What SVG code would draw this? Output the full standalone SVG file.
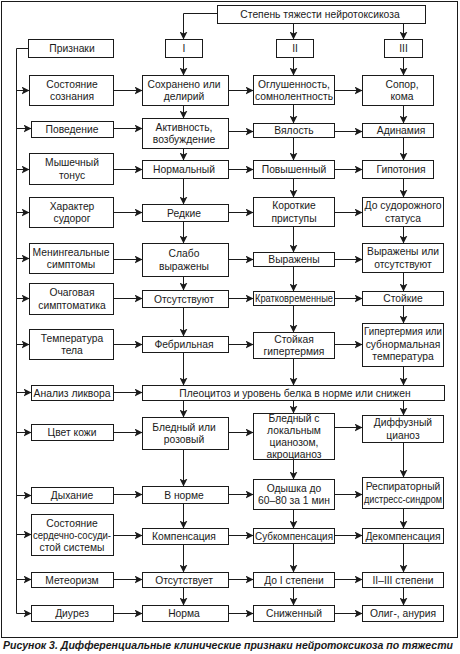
<svg xmlns="http://www.w3.org/2000/svg" width="460" height="654" viewBox="0 0 460 654">
<style>
.b{fill:#fff;stroke:#1a1a1a;stroke-width:1}
.t{font-family:"Liberation Sans",Arial,sans-serif;font-size:10.3px;fill:#1a1a1a;text-anchor:middle}
.c{fill:none;stroke:#1a1a1a;stroke-width:1}
.cap{font-family:"Liberation Sans",Arial,sans-serif;font-size:10.5px;font-weight:bold;font-style:italic;fill:#1a1a1a}
</style>
<defs>
<marker id="a" markerUnits="userSpaceOnUse" viewBox="0 0 8 8" markerWidth="8" markerHeight="8" refX="8" refY="4" orient="auto"><path d="M0,0 L8,4 L0,8 L2,4 z" fill="#1a1a1a"/></marker>
</defs>
<rect x="1.5" y="1.5" width="456" height="636" fill="#fff" stroke="#1a1a1a" stroke-width="1"/>

<g id="connectors" class="c">
<path d="M217.5,13.5 H183.5 V39.5" marker-end="url(#a)"/>
<path d="M293.5,23.5 V39.5" marker-end="url(#a)"/>
<path d="M403.5,23.5 V39.5" marker-end="url(#a)"/>
<path d="M16.5,48.5 V613.5 M16.5,48.5 H28.5"/>
<path d="M16.5,90.5 H29.5" marker-end="url(#a)"/>
<path d="M16.5,128.5 H31.5" marker-end="url(#a)"/>
<path d="M16.5,169.5 H29.5" marker-end="url(#a)"/>
<path d="M16.5,212.5 H29.5" marker-end="url(#a)"/>
<path d="M16.5,258.5 H29.5" marker-end="url(#a)"/>
<path d="M16.5,298.5 H29.5" marker-end="url(#a)"/>
<path d="M16.5,344.5 H29.5" marker-end="url(#a)"/>
<path d="M16.5,392.5 H31.5" marker-end="url(#a)"/>
<path d="M16.5,432.5 H31.5" marker-end="url(#a)"/>
<path d="M16.5,495.5 H31.5" marker-end="url(#a)"/>
<path d="M16.5,534.5 H31.5" marker-end="url(#a)"/>
<path d="M16.5,579.5 H31.5" marker-end="url(#a)"/>
<path d="M16.5,613.5 H31.5" marker-end="url(#a)"/>
<path d="M113.5,90.5 H142.5" marker-end="url(#a)"/>
<path d="M228.5,90.5 H253.5" marker-end="url(#a)"/>
<path d="M334.5,90.5 H362.5" marker-end="url(#a)"/>
<path d="M113.5,128.5 H142.5" marker-end="url(#a)"/>
<path d="M228.5,131.5 H253.5" marker-end="url(#a)"/>
<path d="M334.5,131.5 H362.5" marker-end="url(#a)"/>
<path d="M113.5,169.5 H142.5" marker-end="url(#a)"/>
<path d="M228.5,169.5 H253.5" marker-end="url(#a)"/>
<path d="M334.5,169.5 H362.5" marker-end="url(#a)"/>
<path d="M113.5,212.5 H142.5" marker-end="url(#a)"/>
<path d="M228.5,212.5 H253.5" marker-end="url(#a)"/>
<path d="M334.5,212.5 H362.5" marker-end="url(#a)"/>
<path d="M113.5,259.5 H142.5" marker-end="url(#a)"/>
<path d="M228.5,259.5 H253.5" marker-end="url(#a)"/>
<path d="M334.5,259.5 H362.5" marker-end="url(#a)"/>
<path d="M113.5,298.5 H142.5" marker-end="url(#a)"/>
<path d="M228.5,298.5 H253.5" marker-end="url(#a)"/>
<path d="M334.5,298.5 H362.5" marker-end="url(#a)"/>
<path d="M113.5,344.5 H142.5" marker-end="url(#a)"/>
<path d="M228.5,344.5 H253.5" marker-end="url(#a)"/>
<path d="M334.5,344.5 H362.5" marker-end="url(#a)"/>
<path d="M113.5,392.5 H142.5" marker-end="url(#a)"/>
<path d="M113.5,432.5 H142.5" marker-end="url(#a)"/>
<path d="M228.5,432.5 H253.5" marker-end="url(#a)"/>
<path d="M334.5,427.5 H362.5" marker-end="url(#a)"/>
<path d="M113.5,494.5 H142.5" marker-end="url(#a)"/>
<path d="M228.5,494.5 H253.5" marker-end="url(#a)"/>
<path d="M334.5,494.5 H362.5" marker-end="url(#a)"/>
<path d="M113.5,535.5 H142.5" marker-end="url(#a)"/>
<path d="M228.5,535.5 H253.5" marker-end="url(#a)"/>
<path d="M334.5,535.5 H362.5" marker-end="url(#a)"/>
<path d="M113.5,579.5 H142.5" marker-end="url(#a)"/>
<path d="M228.5,579.5 H253.5" marker-end="url(#a)"/>
<path d="M334.5,579.5 H362.5" marker-end="url(#a)"/>
<path d="M113.5,613.5 H142.5" marker-end="url(#a)"/>
<path d="M228.5,613.5 H253.5" marker-end="url(#a)"/>
<path d="M334.5,613.5 H362.5" marker-end="url(#a)"/>
<path d="M183.5,57.5 V75.5" marker-end="url(#a)"/>
<path d="M183.5,105.5 V118.5" marker-end="url(#a)"/>
<path d="M183.5,148.5 V160.5" marker-end="url(#a)"/>
<path d="M183.5,178.5 V204.5" marker-end="url(#a)"/>
<path d="M183.5,221.5 V243.5" marker-end="url(#a)"/>
<path d="M183.5,276.5 V290.5" marker-end="url(#a)"/>
<path d="M183.5,307.5 V336.5" marker-end="url(#a)"/>
<path d="M183.5,352.5 V385.5" marker-end="url(#a)"/>
<path d="M183.5,400.5 V417.5" marker-end="url(#a)"/>
<path d="M183.5,449.5 V486.5" marker-end="url(#a)"/>
<path d="M183.5,503.5 V528.5" marker-end="url(#a)"/>
<path d="M183.5,544.5 V572.5" marker-end="url(#a)"/>
<path d="M183.5,587.5 V605.5" marker-end="url(#a)"/>
<path d="M293.5,57.5 V75.5" marker-end="url(#a)"/>
<path d="M293.5,104.5 V123.5" marker-end="url(#a)"/>
<path d="M293.5,137.5 V160.5" marker-end="url(#a)"/>
<path d="M293.5,178.5 V197.5" marker-end="url(#a)"/>
<path d="M293.5,226.5 V252.5" marker-end="url(#a)"/>
<path d="M293.5,266.5 V291.5" marker-end="url(#a)"/>
<path d="M293.5,305.5 V332.5" marker-end="url(#a)"/>
<path d="M293.5,358.5 V385.5" marker-end="url(#a)"/>
<path d="M293.5,400.5 V413.5" marker-end="url(#a)"/>
<path d="M293.5,459.5 V479.5" marker-end="url(#a)"/>
<path d="M293.5,509.5 V528.5" marker-end="url(#a)"/>
<path d="M293.5,543.5 V572.5" marker-end="url(#a)"/>
<path d="M293.5,587.5 V605.5" marker-end="url(#a)"/>
<path d="M403.5,57.5 V75.5" marker-end="url(#a)"/>
<path d="M403.5,105.5 V123.5" marker-end="url(#a)"/>
<path d="M403.5,137.5 V160.5" marker-end="url(#a)"/>
<path d="M403.5,178.5 V197.5" marker-end="url(#a)"/>
<path d="M403.5,226.5 V243.5" marker-end="url(#a)"/>
<path d="M403.5,272.5 V291.5" marker-end="url(#a)"/>
<path d="M403.5,305.5 V323.5" marker-end="url(#a)"/>
<path d="M403.5,366.5 V385.5" marker-end="url(#a)"/>
<path d="M403.5,400.5 V415.5" marker-end="url(#a)"/>
<path d="M403.5,442.5 V477.5" marker-end="url(#a)"/>
<path d="M403.5,508.5 V528.5" marker-end="url(#a)"/>
<path d="M403.5,543.5 V572.5" marker-end="url(#a)"/>
<path d="M403.5,587.5 V605.5" marker-end="url(#a)"/>
</g>

<g id="n-header"><rect class="b" x="217.5" y="5.5" width="208" height="18"/><text class="t" x="320" y="18.3">Степень тяжести нейротоксикоза</text></g>
<g id="n-I"><rect class="b" x="165.5" y="39.5" width="37" height="18"/><text class="t" x="184" y="52.3">I</text></g>
<g id="n-II"><rect class="b" x="276.5" y="39.5" width="37" height="18"/><text class="t" x="295" y="52.3">II</text></g>
<g id="n-III"><rect class="b" x="384.5" y="39.5" width="38" height="18"/><text class="t" x="403.5" y="52.3">III</text></g>
<g id="n-priznaki"><rect class="b" x="28.5" y="39.5" width="85" height="18"/><text class="t" x="72" y="52.3">Признаки</text></g>

<g id="n-r1c0"><rect class="b" x="29.5" y="75.5" width="84" height="30"/><text class="t"><tspan x="72" y="87.5">Состояние</tspan><tspan x="72" y="100">сознания</tspan></text></g>
<g id="n-r1c1"><rect class="b" x="142.5" y="75.5" width="86" height="30"/><text class="t"><tspan x="184" y="87.5">Сохранено или</tspan><tspan x="184" y="100">делирий</tspan></text></g>
<g id="n-r1c2"><rect class="b" x="253.5" y="75.5" width="81" height="29"/><text class="t"><tspan x="294" y="87.5">Оглушенность,</tspan><tspan x="294" y="100" textLength="78" lengthAdjust="spacingAndGlyphs">сомнолентность</tspan></text></g>
<g id="n-r1c3"><rect class="b" x="362.5" y="75.5" width="71" height="30"/><text class="t"><tspan x="402" y="87.5">Сопор,</tspan><tspan x="402" y="100">кома</tspan></text></g>

<g id="n-r2c0"><rect class="b" x="31.5" y="121.5" width="82" height="16"/><text class="t" x="72" y="133">Поведение</text></g>
<g id="n-r2c1"><rect class="b" x="142.5" y="118.5" width="86" height="30"/><text class="t"><tspan x="184" y="130.5">Активность,</tspan><tspan x="184" y="143">возбуждение</tspan></text></g>
<g id="n-r2c2"><rect class="b" x="253.5" y="123.5" width="81" height="14"/><text class="t" x="294" y="134">Вялость</text></g>
<g id="n-r2c3"><rect class="b" x="362.5" y="123.5" width="71" height="14"/><text class="t" x="401" y="134">Адинамия</text></g>

<g id="n-r3c0"><rect class="b" x="29.5" y="153.5" width="84" height="31"/><text class="t"><tspan x="72" y="166">Мышечный</tspan><tspan x="72" y="178.5">тонус</tspan></text></g>
<g id="n-r3c1"><rect class="b" x="142.5" y="160.5" width="86" height="18"/><text class="t" x="184" y="173">Нормальный</text></g>
<g id="n-r3c2"><rect class="b" x="253.5" y="160.5" width="81" height="18"/><text class="t" x="294" y="173">Повышенный</text></g>
<g id="n-r3c3"><rect class="b" x="362.5" y="160.5" width="71" height="18"/><text class="t" x="401" y="173">Гипотония</text></g>

<g id="n-r4c0"><rect class="b" x="29.5" y="197.5" width="84" height="30"/><text class="t"><tspan x="72" y="209.5">Характер</tspan><tspan x="72" y="222">судорог</tspan></text></g>
<g id="n-r4c1"><rect class="b" x="142.5" y="204.5" width="86" height="17"/><text class="t" x="184" y="216.5">Редкие</text></g>
<g id="n-r4c2"><rect class="b" x="253.5" y="197.5" width="81" height="29"/><text class="t"><tspan x="294" y="209">Короткие</tspan><tspan x="294" y="221.5">приступы</tspan></text></g>
<g id="n-r4c3"><rect class="b" x="362.5" y="197.5" width="81" height="29"/><text class="t"><tspan x="403" y="209" textLength="77" lengthAdjust="spacingAndGlyphs">До судорожного</tspan><tspan x="403" y="221.5">статуса</tspan></text></g>

<g id="n-r5c0"><rect class="b" x="29.5" y="243.5" width="84" height="30"/><text class="t"><tspan x="71" y="255.5" textLength="77" lengthAdjust="spacingAndGlyphs">Менингеальные</tspan><tspan x="71" y="268">симптомы</tspan></text></g>
<g id="n-r5c1"><rect class="b" x="142.5" y="243.5" width="86" height="33"/><text class="t"><tspan x="184" y="257">Слабо</tspan><tspan x="184" y="269.5">выражены</tspan></text></g>
<g id="n-r5c2"><rect class="b" x="253.5" y="252.5" width="81" height="14"/><text class="t" x="294" y="263">Выражены</text></g>
<g id="n-r5c3"><rect class="b" x="362.5" y="243.5" width="81" height="29"/><text class="t"><tspan x="403" y="255">Выражены или</tspan><tspan x="403" y="267.5">отсутствуют</tspan></text></g>

<g id="n-r6c0"><rect class="b" x="29.5" y="283.5" width="84" height="31"/><text class="t"><tspan x="72" y="296">Очаговая</tspan><tspan x="72" y="308.5">симптоматика</tspan></text></g>
<g id="n-r6c1"><rect class="b" x="142.5" y="290.5" width="86" height="17"/><text class="t" x="184" y="302.5">Отсутствуют</text></g>
<g id="n-r6c2"><rect class="b" x="253.5" y="291.5" width="81" height="14"/><text class="t" x="294" y="302" textLength="78" lengthAdjust="spacingAndGlyphs">Кратковременные</text></g>
<g id="n-r6c3"><rect class="b" x="362.5" y="291.5" width="81" height="14"/><text class="t" x="403" y="302">Стойкие</text></g>

<g id="n-r7c0"><rect class="b" x="29.5" y="329.5" width="84" height="30"/><text class="t"><tspan x="72" y="341.5">Температура</tspan><tspan x="72" y="354">тела</tspan></text></g>
<g id="n-r7c1"><rect class="b" x="142.5" y="336.5" width="86" height="16"/><text class="t" x="184" y="348">Фебрильная</text></g>
<g id="n-r7c2"><rect class="b" x="253.5" y="332.5" width="81" height="26"/><text class="t"><tspan x="294" y="342.5">Стойкая</tspan><tspan x="294" y="355">гипертермия</tspan></text></g>
<g id="n-r7c3"><rect class="b" x="362.5" y="323.5" width="81" height="43"/><text class="t"><tspan x="403" y="335" textLength="78" lengthAdjust="spacingAndGlyphs">Гипертермия или</tspan><tspan x="403" y="347.5">субнормальная</tspan><tspan x="403" y="360">температура</tspan></text></g>

<g id="n-r8c0"><rect class="b" x="31.5" y="385.5" width="82" height="15"/><text class="t" x="72" y="396.5" textLength="77" lengthAdjust="spacingAndGlyphs">Анализ ликвора</text></g>
<g id="n-r8wide"><rect class="b" x="142.5" y="385.5" width="302" height="15"/><text class="t" x="295" y="396.5">Плеоцитоз и уровень белка в норме или снижен</text></g>

<g id="n-r9c0"><rect class="b" x="31.5" y="424.5" width="82" height="16"/><text class="t" x="72" y="436">Цвет кожи</text></g>
<g id="n-r9c1"><rect class="b" x="142.5" y="417.5" width="86" height="32"/><text class="t"><tspan x="184" y="430.5">Бледный или</tspan><tspan x="184" y="443">розовый</tspan></text></g>
<g id="n-r9c2"><rect class="b" x="253.5" y="413.5" width="81" height="46"/><text class="t"><tspan x="294" y="421.5">Бледный с</tspan><tspan x="294" y="434">локальным</tspan><tspan x="294" y="446">цианозом,</tspan><tspan x="294" y="457.5">акроцианоз</tspan></text></g>
<g id="n-r9c3"><rect class="b" x="362.5" y="415.5" width="81" height="27"/><text class="t"><tspan x="403" y="426">Диффузный</tspan><tspan x="403" y="438.5">цианоз</tspan></text></g>

<g id="n-r10c0"><rect class="b" x="31.5" y="487.5" width="82" height="16"/><text class="t" x="72" y="499">Дыхание</text></g>
<g id="n-r10c1"><rect class="b" x="142.5" y="486.5" width="86" height="17"/><text class="t" x="184" y="498.5">В норме</text></g>
<g id="n-r10c2"><rect class="b" x="253.5" y="479.5" width="81" height="30"/><text class="t"><tspan x="294" y="491.5">Одышка до</tspan><tspan x="294" y="504">60–80 за 1 мин</tspan></text></g>
<g id="n-r10c3"><rect class="b" x="362.5" y="477.5" width="81" height="31"/><text class="t"><tspan x="403" y="490">Респираторный</tspan><tspan x="403" y="502.5" textLength="78" lengthAdjust="spacingAndGlyphs">дистресс-синдром</tspan></text></g>

<g id="n-r11c0"><rect class="b" x="31.5" y="514.5" width="82" height="41"/><text class="t"><tspan x="72" y="527">Состояние</tspan><tspan x="72" y="539" textLength="78" lengthAdjust="spacingAndGlyphs">сердечно-сосуди-</tspan><tspan x="72" y="551">стой системы</tspan></text></g>
<g id="n-r11c1"><rect class="b" x="142.5" y="528.5" width="86" height="16"/><text class="t" x="184" y="540">Компенсация</text></g>
<g id="n-r11c2"><rect class="b" x="253.5" y="528.5" width="81" height="15"/><text class="t" x="294" y="539.5" textLength="78" lengthAdjust="spacingAndGlyphs">Субкомпенсация</text></g>
<g id="n-r11c3"><rect class="b" x="362.5" y="528.5" width="81" height="15"/><text class="t" x="403" y="539.5">Декомпенсация</text></g>

<g id="n-r12c0"><rect class="b" x="31.5" y="572.5" width="82" height="15"/><text class="t" x="72" y="583.5">Метеоризм</text></g>
<g id="n-r12c1"><rect class="b" x="142.5" y="572.5" width="86" height="15"/><text class="t" x="184" y="583.5">Отсутствует</text></g>
<g id="n-r12c2"><rect class="b" x="253.5" y="572.5" width="81" height="15"/><text class="t" x="294" y="583.5">До I степени</text></g>
<g id="n-r12c3"><rect class="b" x="362.5" y="572.5" width="81" height="15"/><text class="t" x="403" y="583.5">II–III степени</text></g>

<g id="n-r13c0"><rect class="b" x="31.5" y="605.5" width="82" height="16"/><text class="t" x="72" y="617">Диурез</text></g>
<g id="n-r13c1"><rect class="b" x="142.5" y="605.5" width="86" height="16"/><text class="t" x="184" y="617">Норма</text></g>
<g id="n-r13c2"><rect class="b" x="253.5" y="605.5" width="81" height="16"/><text class="t" x="294" y="617">Сниженный</text></g>
<g id="n-r13c3"><rect class="b" x="362.5" y="605.5" width="81" height="16"/><text class="t" x="403" y="617">Олиг-, анурия</text></g>

<text class="cap" x="3" y="648.5" textLength="450" lengthAdjust="spacingAndGlyphs">Рисунок 3. Дифференциальные клинические признаки нейротоксикоза по тяжести</text>
</svg>
